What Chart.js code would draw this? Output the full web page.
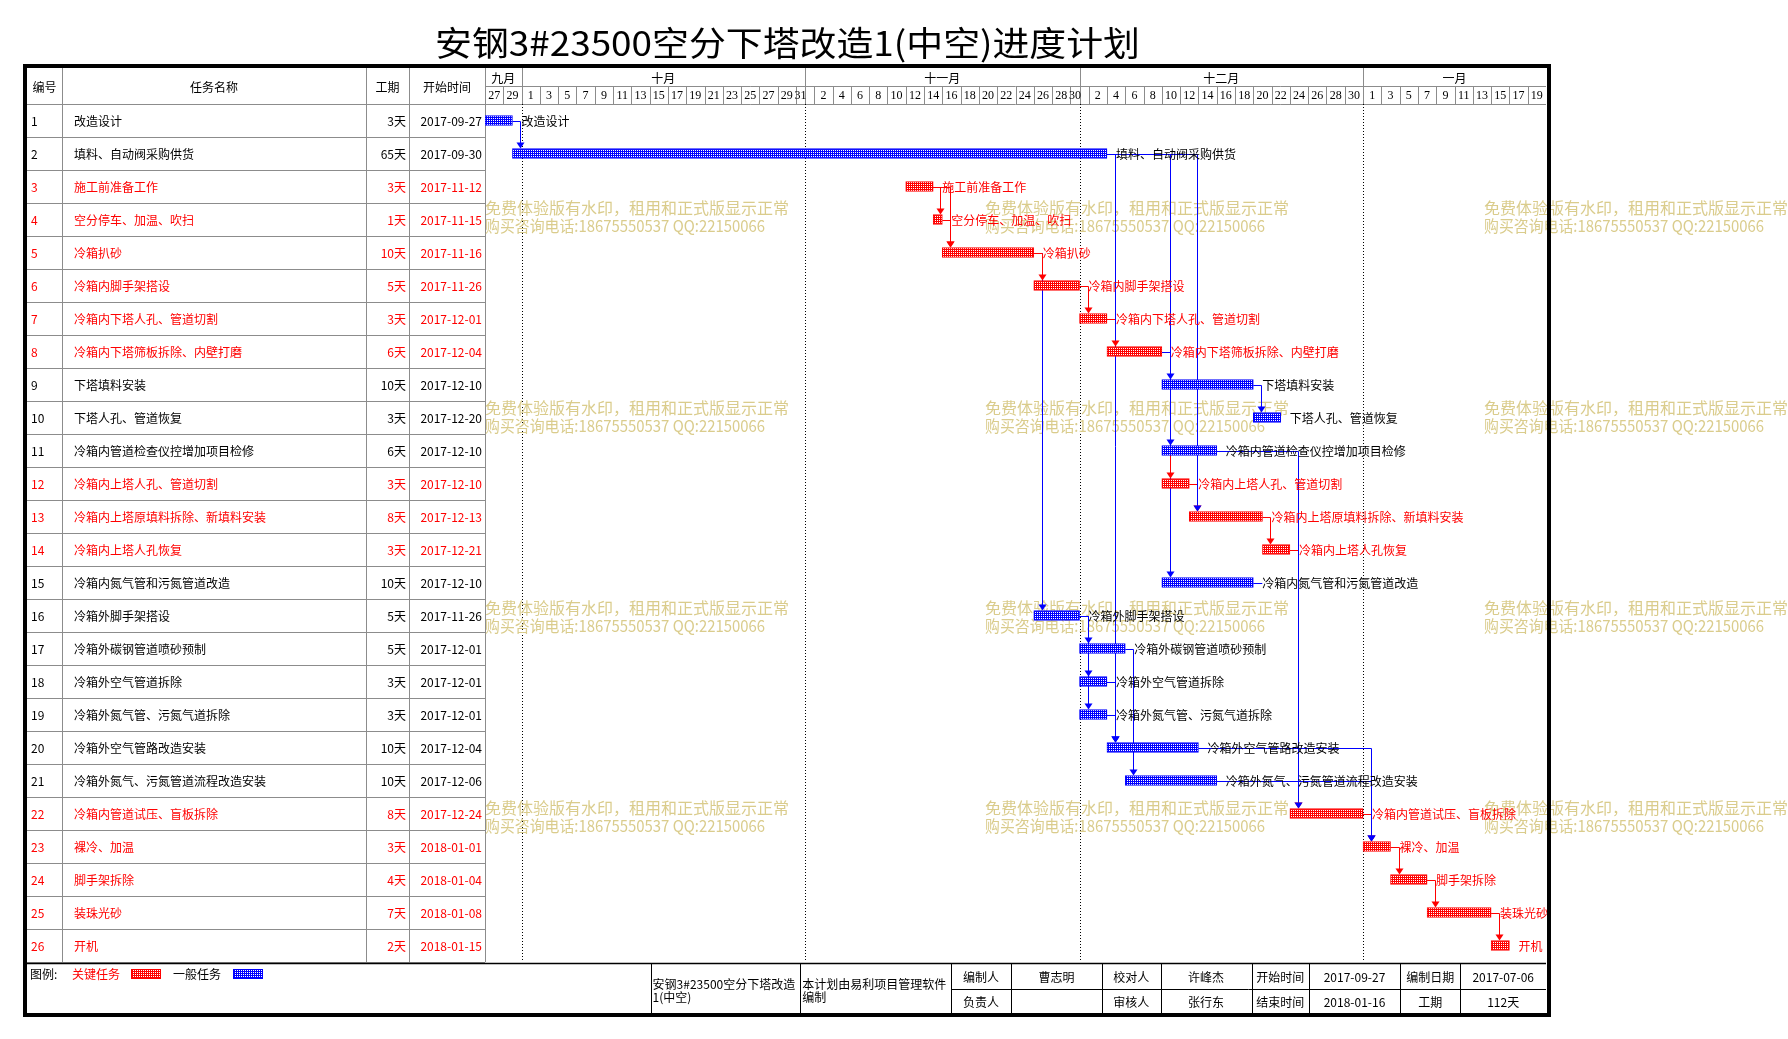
<!DOCTYPE html>
<html><head><meta charset="utf-8">
<script src="https://cdn.jsdelivr.net/npm/chart.js@4.4.1/dist/chart.umd.min.js"></script>
<style>html,body{margin:0;padding:0;background:#fff;overflow:hidden}canvas{display:block}</style>
</head><body>
<canvas id="c" width="1788" height="1039"></canvas>
<script>
// ---------------- data ----------------
const chartTitle = '安钢3#23500空分下塔改造1(中空)进度计划';
const taskIds = ['1','2','3','4','5','6','7','8','9','10','11','12','13','14','15','16','17','18','19','20','21','22','23','24','25','26'];
const taskNames = ['改造设计','填料、自动阀采购供货','施工前准备工作','空分停车、加温、吹扫','冷箱扒砂','冷箱内脚手架搭设','冷箱内下塔人孔、管道切割','冷箱内下塔筛板拆除、内壁打磨','下塔填料安装','下塔人孔、管道恢复','冷箱内管道检查仪控增加项目检修','冷箱内上塔人孔、管道切割','冷箱内上塔原填料拆除、新填料安装','冷箱内上塔人孔恢复','冷箱内氮气管和污氮管道改造','冷箱外脚手架搭设','冷箱外碳钢管道喷砂预制','冷箱外空气管道拆除','冷箱外氮气管、污氮气道拆除','冷箱外空气管路改造安装','冷箱外氮气、污氮管道流程改造安装','冷箱内管道试压、盲板拆除','裸冷、加温','脚手架拆除','装珠光砂','开机'];
const durations = [3,65,3,1,10,5,3,6,10,3,6,3,8,3,10,5,5,3,3,10,10,8,3,4,7,2];
const startDates = ['2017-09-27','2017-09-30','2017-11-12','2017-11-15','2017-11-16','2017-11-26','2017-12-01','2017-12-04','2017-12-10','2017-12-20','2017-12-10','2017-12-10','2017-12-13','2017-12-21','2017-12-10','2017-11-26','2017-12-01','2017-12-01','2017-12-01','2017-12-04','2017-12-06','2017-12-24','2018-01-01','2018-01-04','2018-01-08','2018-01-15'];
const criticalFlags = [0,0,1,1,1,1,1,1,0,0,0,1,1,1,0,0,0,0,0,0,0,1,1,1,1,1];
// dependency links (drawing order)
const linkFrom     = [3,3,4,5,5,6,7,1,2,12,2,8,8,2,11,9,13,14,11,16,16,16,17,18,19,22,20,21,23,24,25];
const linkTo       = [4,5,5,16,6,7,8,2,20,13,13,9,11,15,12,10,14,22,22,17,18,19,21,20,20,23,23,23,24,25,26];
const linkCritical = [1,1,1,0,1,1,1,0,0,1,0,0,0,0,1,0,1,1,0,0,0,0,0,0,0,1,0,0,1,1,1];
const stubTasks = [15];
const monthLabels = ['九月','十月','十一月','十二月','一月'];
const monthStarts = ['2017-09-27','2017-10-01','2017-11-01','2017-12-01','2018-01-01'];
const axisStart = '2017-09-27';
const axisEnd = '2018-01-21';
const dayTickLabels = [27,29, 1,3,5,7,9,11,13,15,17,19,21,23,25,27,29,31, 2,4,6,8,10,12,14,16,18,20,22,24,26,28,30, 2,4,6,8,10,12,14,16,18,20,22,24,26,28,30, 1,3,5,7,9,11,13,15,17,19];
const headerCols = ['编号','任务名称','工期','开始时间'];
const legendLabels = ['图例:','关键任务','一般任务'];
const footerLeft = [['安钢3#23500空分下塔改造','1(中空)'],['本计划由易利项目管理软件','编制']];
const footerRow1 = ['编制人','曹志明','校对人','许峰杰','开始时间','2017-09-27','编制日期','2017-07-06'];
const footerRow2 = ['负责人','','审核人','张行东','结束时间','2018-01-16','工期','112天'];
const watermarkLines = ['免费体验版有水印，租用和正式版显示正常','购买咨询电话:18675550537 QQ:22150066'];

// ---------------- helpers ----------------
const W = 1788, H = 1039;
const RED = '#ff0000', BLUE = '#0000ff', GRID = '#8c8c8c', WM = 'rgb(218,204,140)';
const F = '"Noto Sans CJK SC","Noto Sans",sans-serif';
function dayOffset(s){const a=s.split('-').map(Number);const b=axisStart.split('-').map(Number);
  return Math.round((Date.UTC(a[0],a[1]-1,a[2])-Date.UTC(b[0],b[1]-1,b[2]))/86400000);}
const totalDays = dayOffset(axisEnd);
const startOff = startDates.map(dayOffset);
const endOff = startOff.map((s,i)=>s+durations[i]);
const monthOff = monthStarts.map(dayOffset);

const cv = document.getElementById('c');
const ctx0 = cv.getContext('2d');
function makePattern(color){
  const c=document.createElement('canvas');c.width=2;c.height=2;
  const g=c.getContext('2d');g.fillStyle=color;g.fillRect(0,0,2,2);
  g.fillStyle='#fff';g.fillRect(1,0,1,1);
  return ctx0.createPattern(c,'repeat');
}
const redPat = makePattern(RED), bluePat = makePattern(BLUE);
const cr = v => Math.round(v)+0.5;
function hl(ctx,x1,x2,y,c,w){ctx.beginPath();ctx.strokeStyle=c;ctx.lineWidth=w||1;ctx.moveTo(x1,cr(y));ctx.lineTo(x2,cr(y));ctx.stroke();}
function vl(ctx,x,y1,y2,c,w){ctx.beginPath();ctx.strokeStyle=c;ctx.lineWidth=w||1;ctx.moveTo(cr(x),y1);ctx.lineTo(cr(x),y2);ctx.stroke();}
function txt(ctx,s,x,y,color,align,font){ctx.fillStyle=color;ctx.textAlign=align||'left';ctx.textBaseline='middle';ctx.font=font||('12px '+F);ctx.fillText(s,x,y);}
function fitTxt(ctx,s,x,y,color,font,width){
  ctx.save();ctx.font=font;const w=ctx.measureText(s).width;ctx.translate(x,y);ctx.scale(width/w,1);
  txt(ctx,s,0,0,color,'left',font);ctx.restore();
}

const BAR_H = 10;
const COLX = [27,62,366,409];

const gantt = {
  id:'gantt',
  beforeDatasetsDraw(chart){
    const ctx=chart.ctx, xs=chart.scales.x, ys=chart.scales.y, ca=chart.chartArea;
    const rowH=(ca.bottom-ca.top)/taskIds.length;
    const xp=v=>xs.getPixelForValue(v);
    ctx.save();
    ctx.fillStyle='#fff';ctx.fillRect(0,0,W,H);
    // title
    ctx.font='34px '+F;
    const tw=ctx.measureText(chartTitle).width;
    ctx.save();ctx.translate(787.5,43);ctx.scale(705/tw,1);
    txt(ctx,chartTitle,0,0,'#000','center','34px '+F);ctx.restore();
    // table grid
    const hdrTop=68, midHdr=86;
    for(let i=0;i<=taskIds.length;i++){const y=ca.top+i*rowH; hl(ctx,COLX[0],ca.left,y,GRID);}
    hl(ctx,ca.left,ca.right,ca.top,GRID);
    hl(ctx,ca.left,ca.right,midHdr,GRID);
    for(let k=1;k<COLX.length;k++) vl(ctx,COLX[k],hdrTop,ca.bottom,GRID);
    vl(ctx,ca.left,hdrTop,ca.bottom,GRID);
    // header texts
    const hc=[(COLX[0]+COLX[1])/2,(COLX[1]+COLX[2])/2,(COLX[2]+COLX[3])/2,(COLX[3]+ca.left)/2];
    headerCols.forEach((s,k)=>txt(ctx,s,hc[k],(hdrTop+ca.top)/2+1,'#000','center'));
    // month row
    for(let m=0;m<monthLabels.length;m++){
      const a=monthOff[m], b=(m+1<monthOff.length?monthOff[m+1]:totalDays);
      if(a>0) vl(ctx,xp(a),hdrTop,ca.top,GRID);
      txt(ctx,monthLabels[m],(xp(a)+xp(b))/2,(hdrTop+midHdr)/2+1,'#000','center');
    }
    // day row
    dayTickLabels.forEach((d,k)=>{
      const a=2*k; if(a>0) vl(ctx,xp(a),midHdr,ca.top,GRID);
      let e=Math.min(a+2,totalDays);
      for(const mo of monthOff){ if(mo>a && mo<e) e=mo; }
      txt(ctx,String(d),(xp(a)+xp(e))/2,(midHdr+ca.top)/2+1,'#000','center','12px "Liberation Serif",serif');
    });
    // table text
    taskIds.forEach((id,i)=>{
      const y=ys.getPixelForValue(i)+0.5, c=criticalFlags[i]?RED:'#000';
      txt(ctx,id,31,y,c,'left');
      txt(ctx,taskNames[i],74,y,c,'left');
      txt(ctx,durations[i]+'天',406,y,c,'right');
      txt(ctx,startDates[i],482,y,c,'right');
    });
    // dotted month lines
    ctx.save();ctx.setLineDash([1,2]);
    for(const mo of monthOff){ if(mo>0) vl(ctx,xp(mo),ca.top,ca.bottom,'#000'); }
    ctx.restore();
    // watermarks
    const wx=[485,985,1484], wy=[208,408,608,808];
    for(const y of wy) for(const x of wx){
      fitTxt(ctx,watermarkLines[0],x,y,WM,'16px '+F,304);
      fitTxt(ctx,watermarkLines[1],x,y+17.5,WM,'16px '+F,280);
    }
    // dependency lines
    const arrows=[];
    const arrowX=s=>{const w=xp(endOff[s])-xp(startOff[s]);return xp(startOff[s])+Math.min(8,w-2);};
    linkFrom.forEach((f,k)=>{
      const p=f-1,s=linkTo[k]-1,col=linkCritical[k]?RED:BLUE;
      const px=xp(endOff[p]),py=cr(ys.getPixelForValue(p)),ax=cr(arrowX(s)),ay=ys.getPixelForValue(s)-BAR_H/2;
      ctx.beginPath();ctx.strokeStyle=col;ctx.lineWidth=1;
      ctx.moveTo(px,py);ctx.lineTo(ax,py);ctx.lineTo(ax,ay-4);ctx.stroke();
      arrows.push([ax,ay,col]);
    });
    stubTasks.forEach(t=>{const i=t-1;const px=xp(endOff[i]);hl(ctx,px,px+9,ys.getPixelForValue(i),criticalFlags[i]?RED:BLUE);});
    for(const [ax,ay,col] of arrows){ctx.beginPath();ctx.fillStyle=col;ctx.moveTo(ax-4,ay-6);ctx.lineTo(ax+4,ay-6);ctx.lineTo(ax,ay);ctx.closePath();ctx.fill();}
    ctx.restore();
  },
  afterDatasetsDraw(chart){
    const ctx=chart.ctx, xs=chart.scales.x, ys=chart.scales.y, ca=chart.chartArea;
    const xp=v=>xs.getPixelForValue(v);
    ctx.save();
    // bar labels
    taskNames.forEach((n,i)=>{
      txt(ctx,n,xp(endOff[i])+9,ys.getPixelForValue(i)+0.5,criticalFlags[i]?RED:'#000','left');
    });
    // footer
    const fTop=963, fMid=989, fBot=1013;
    hl(ctx,COLX[0],ca.right,fTop,'#000',1.5);
    const fx=[650.6,800.2,951,1011,1102,1160.5,1251.5,1309,1400,1460.4];
    fx.forEach(x=>vl(ctx,x,fTop,fBot,'#000'));
    hl(ctx,fx[2],ca.right,fMid,'#000');
    footerLeft.forEach((lines,k)=>{lines.forEach((s,j)=>txt(ctx,s,fx[k]+2,984+j*13,'#000','left'));});
    for(let k=0;k<footerRow1.length;k++){
      const a=fx[k+2], b=(k+3<fx.length?fx[k+3]:ca.right);
      txt(ctx,footerRow1[k],(a+b)/2,(fTop+fMid)/2+1,'#000','center');
      txt(ctx,footerRow2[k],(a+b)/2,(fMid+fBot)/2+1,'#000','center');
    }
    // legend
    txt(ctx,legendLabels[0],30,974,'#000','left');
    txt(ctx,legendLabels[1],72,974,RED,'left');
    ctx.fillStyle=redPat;ctx.fillRect(131,969,30,10);ctx.strokeStyle=RED;ctx.lineWidth=1;ctx.strokeRect(131.5,969.5,29,9);
    txt(ctx,legendLabels[2],173,974,'#000','left');
    ctx.fillStyle=bluePat;ctx.fillRect(233,969,30,10);ctx.strokeStyle=BLUE;ctx.strokeRect(233.5,969.5,29,9);
    // outer border
    ctx.strokeStyle='#000';ctx.lineWidth=4;ctx.strokeRect(25,66,1524,949);
    ctx.restore();
  }
};

new Chart(cv,{
  type:'bar',
  data:{labels:taskNames,datasets:[{
    data:startOff.map((s,i)=>[s,endOff[i]]),
    backgroundColor:criticalFlags.map(c=>c?redPat:bluePat),
    borderColor:criticalFlags.map(c=>c?RED:BLUE),
    borderWidth:1,borderSkipped:false,barThickness:BAR_H
  }]},
  options:{
    indexAxis:'y',responsive:false,devicePixelRatio:1,animation:false,
    layout:{padding:{left:485,right:242,top:104,bottom:77}},
    scales:{x:{type:'linear',min:0,max:totalDays,display:false},y:{display:false,offset:true}},
    plugins:{legend:{display:false},tooltip:{enabled:false},title:{display:false}}
  },
  plugins:[gantt]
});
</script>
</body></html>
